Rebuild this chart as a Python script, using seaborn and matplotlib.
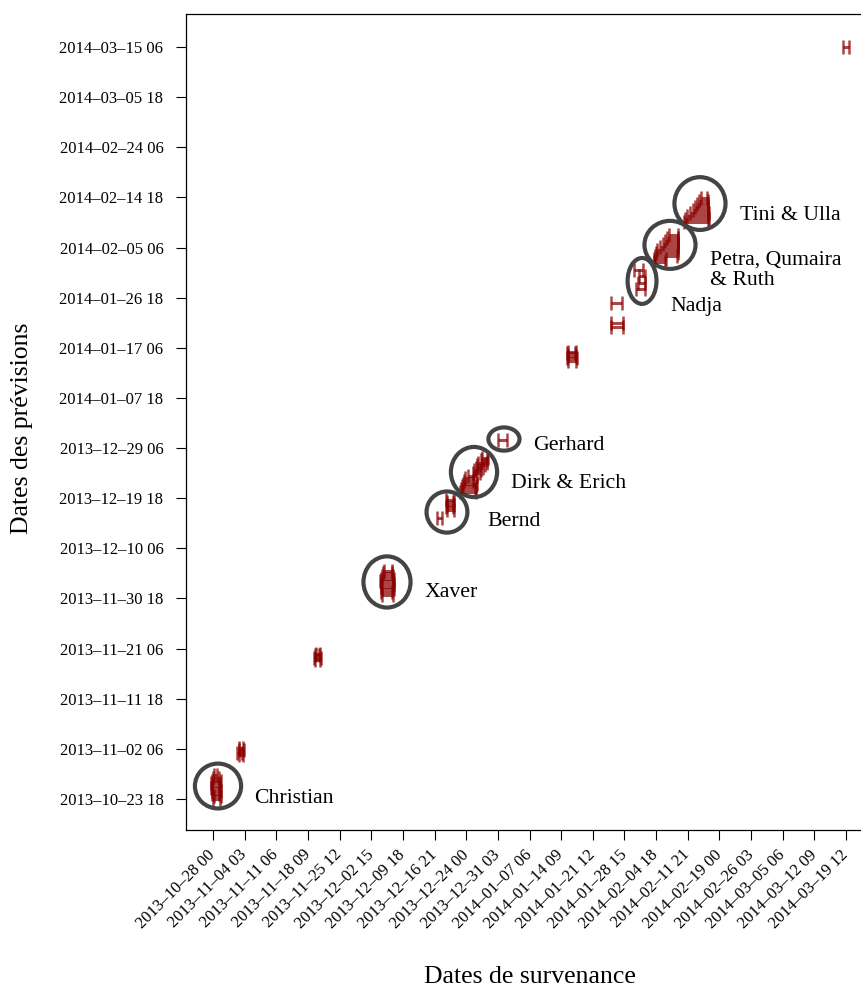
import numpy as np
import pandas as pd
import matplotlib
matplotlib.use("Agg")
import matplotlib.pyplot as plt
import matplotlib.dates as mdates
from matplotlib.patches import Ellipse
import seaborn as sns

# (date de prevision, debut, fin) de la fenetre de survenance prevue
christian = [("2013-10-23 18", "2013-10-28 00", "2013-10-29 12"),
             ("2013-10-24 06", "2013-10-28 06", "2013-10-29 18"),
             ("2013-10-24 18", "2013-10-27 18", "2013-10-29 06"),
             ("2013-10-25 06", "2013-10-27 18", "2013-10-29 18"),
             ("2013-10-25 18", "2013-10-27 12", "2013-10-29 12"),
             ("2013-10-26 06", "2013-10-27 18", "2013-10-29 06"),
             ("2013-10-26 18", "2013-10-27 12", "2013-10-29 12"),
             ("2013-10-27 06", "2013-10-27 18", "2013-10-29 18"),
             ("2013-10-27 18", "2013-10-28 00", "2013-10-29 06"),
             ("2013-10-28 06", "2013-10-28 06", "2013-10-29 00")]
nov02 = [("2013-11-01 00", "2013-11-02 18", "2013-11-03 18"),
         ("2013-11-01 12", "2013-11-02 12", "2013-11-03 12"),
         ("2013-11-02 00", "2013-11-02 18", "2013-11-04 00"),
         ("2013-11-02 12", "2013-11-02 18", "2013-11-03 18")]
nov21 = [("2013-11-19 00", "2013-11-20 00", "2013-11-21 00"),
         ("2013-11-19 12", "2013-11-19 18", "2013-11-21 06"),
         ("2013-11-20 00", "2013-11-20 00", "2013-11-20 18"),
         ("2013-11-20 06", "2013-11-20 06", "2013-11-21 00")]
xaver = [("2013-12-01 12", "2013-12-05 00", "2013-12-07 12"),
         ("2013-12-02 00", "2013-12-04 18", "2013-12-07 06"),
         ("2013-12-02 12", "2013-12-05 00", "2013-12-07 18"),
         ("2013-12-03 00", "2013-12-04 18", "2013-12-07 12"),
         ("2013-12-03 12", "2013-12-04 18", "2013-12-07 18"),
         ("2013-12-04 00", "2013-12-04 12", "2013-12-07 12"),
         ("2013-12-04 12", "2013-12-04 18", "2013-12-07 18"),
         ("2013-12-05 00", "2013-12-05 00", "2013-12-07 12"),
         ("2013-12-05 12", "2013-12-05 06", "2013-12-07 06"),
         ("2013-12-06 00", "2013-12-05 12", "2013-12-07 06")]
bernd = [("2013-12-16 00", "2013-12-17 12", "2013-12-18 12"),
         ("2013-12-17 12", "2013-12-19 18", "2013-12-21 06"),
         ("2013-12-18 00", "2013-12-19 12", "2013-12-21 00"),
         ("2013-12-18 12", "2013-12-19 18", "2013-12-21 06"),
         ("2013-12-19 00", "2013-12-19 18", "2013-12-21 00"),
         ("2013-12-19 12", "2013-12-19 12", "2013-12-21 06")]
dirk_erich = [("2013-12-21 00", "2013-12-22 12", "2013-12-26 06"),
              ("2013-12-21 12", "2013-12-22 18", "2013-12-26 00"),
              ("2013-12-22 00", "2013-12-23 00", "2013-12-26 06"),
              ("2013-12-22 12", "2013-12-23 06", "2013-12-26 12"),
              ("2013-12-23 00", "2013-12-23 12", "2013-12-25 12"),
              ("2013-12-23 12", "2013-12-23 18", "2013-12-25 18"),
              ("2013-12-24 00", "2013-12-24 12", "2013-12-26 12"),
              ("2013-12-24 12", "2013-12-25 12", "2013-12-27 00"),
              ("2013-12-25 00", "2013-12-25 18", "2013-12-27 06"),
              ("2013-12-25 12", "2013-12-26 06", "2013-12-27 18"),
              ("2013-12-26 00", "2013-12-26 12", "2013-12-28 06"),
              ("2013-12-26 12", "2013-12-26 18", "2013-12-28 18"),
              ("2013-12-27 00", "2013-12-27 06", "2013-12-28 18"),
              ("2013-12-27 09", "2013-12-27 12", "2013-12-28 22")]
gerhard = [("2013-12-30 18", "2013-12-31 06", "2014-01-02 06")]
jan17 = [("2014-01-14 18", "2014-01-16 00", "2014-01-17 18"),
         ("2014-01-15 06", "2014-01-15 18", "2014-01-18 00"),
         ("2014-01-15 18", "2014-01-16 00", "2014-01-17 18"),
         ("2014-01-16 06", "2014-01-15 18", "2014-01-17 12"),
         ("2014-01-16 12", "2014-01-16 00", "2014-01-17 18")]
jan25 = [("2014-01-21 06", "2014-01-25 12", "2014-01-28 06"),
         ("2014-01-22 00", "2014-01-25 12", "2014-01-28 06"),
         ("2014-01-25 18", "2014-01-25 12", "2014-01-28 00")]
nadja = [("2014-01-28 10", "2014-01-31 06", "2014-02-02 06"),
         ("2014-01-29 13", "2014-01-31 16", "2014-02-02 06"),
         ("2014-01-30 21", "2014-01-31 22", "2014-02-02 06"),
         ("2014-02-01 00", "2014-01-30 19", "2014-02-01 19")]
petra = [("2014-02-02 12", "2014-02-04 07", "2014-02-06 18"),
         ("2014-02-03 02", "2014-02-04 07", "2014-02-07 00"),
         ("2014-02-03 16", "2014-02-04 12", "2014-02-09 11"),
         ("2014-02-04 05", "2014-02-04 18", "2014-02-09 16"),
         ("2014-02-04 19", "2014-02-04 23", "2014-02-09 16"),
         ("2014-02-05 08", "2014-02-05 15", "2014-02-09 16"),
         ("2014-02-05 22", "2014-02-06 07", "2014-02-09 16"),
         ("2014-02-06 12", "2014-02-06 18", "2014-02-09 16"),
         ("2014-02-07 01", "2014-02-07 05", "2014-02-09 16"),
         ("2014-02-07 15", "2014-02-07 16", "2014-02-09 16")]
tini = [("2014-02-10 02", "2014-02-11 01", "2014-02-16 10"),
        ("2014-02-10 16", "2014-02-11 06", "2014-02-16 16"),
        ("2014-02-11 06", "2014-02-11 17", "2014-02-16 10"),
        ("2014-02-11 19", "2014-02-12 09", "2014-02-16 16"),
        ("2014-02-12 09", "2014-02-13 01", "2014-02-16 10"),
        ("2014-02-12 22", "2014-02-13 12", "2014-02-16 10"),
        ("2014-02-13 12", "2014-02-13 23", "2014-02-16 10"),
        ("2014-02-14 02", "2014-02-14 10", "2014-02-16 10"),
        ("2014-02-14 15", "2014-02-14 21", "2014-02-16 05")]
mar15 = [("2014-03-15 06", "2014-03-18 18", "2014-03-20 06")]

x_ticks = ["2013-10-28 00", "2013-11-04 03", "2013-11-11 06", "2013-11-18 09",
           "2013-11-25 12", "2013-12-02 15", "2013-12-09 18", "2013-12-16 21",
           "2013-12-24 00", "2013-12-31 03", "2014-01-07 06", "2014-01-14 09",
           "2014-01-21 12", "2014-01-28 15", "2014-02-04 18", "2014-02-11 21",
           "2014-02-19 00", "2014-02-26 03", "2014-03-05 06", "2014-03-12 09",
           "2014-03-19 12"]
y_ticks = ["2013-10-23 18", "2013-11-02 06", "2013-11-11 18", "2013-11-21 06",
           "2013-11-30 18", "2013-12-10 06", "2013-12-19 18", "2013-12-29 06",
           "2014-01-07 18", "2014-01-17 06", "2014-01-26 18", "2014-02-05 06",
           "2014-02-14 18", "2014-02-24 06", "2014-03-05 18", "2014-03-15 06"]

storm_names = ["Christian", "Xaver", "Bernd", "Dirk & Erich", "Gerhard",
               "Nadja", "Petra, Qumaira\n& Ruth", "Tini & Ulla"]
circle_x = ["2013-10-29 03", "2013-12-06 04", "2013-12-19 16", "2013-12-25 18",
            "2014-01-01 12", "2014-02-01 14", "2014-02-07 21", "2014-02-14 15"]
circle_y = ["2013-10-26 05", "2013-12-03 21", "2013-12-17 03", "2013-12-24 17",
            "2013-12-30 23", "2014-01-29 22", "2014-02-05 18", "2014-02-13 14"]
circle_w = [10.4, 10.6, 9.2, 10.4, 7.0, 6.5, 11.5, 11.5]
circle_h = [8.5, 9.7, 7.8, 9.5, 4.4, 8.7, 9.1, 10.0]
label_x = ["2013-11-06 06", "2013-12-14 12", "2013-12-28 16", "2014-01-03 02",
           "2014-01-08 01", "2014-02-07 21", "2014-02-16 21", "2014-02-23 15"]
label_y = ["2013-10-23 18", "2013-12-01 23", "2013-12-15 06", "2013-12-22 15",
           "2013-12-29 16", "2014-01-25 00", "2014-02-01 00", "2014-02-11 06"]

fmt = "%Y-%m-%d %H"
def num(v):
    return mdates.date2num(pd.to_datetime(pd.Series(v), format=fmt))

rows = []
for g in [christian, nov02, nov21, xaver, bernd, dirk_erich, gerhard,
          jan17, jan25, nadja, petra, tini, mar15]:
    rows.extend(g)
df = pd.DataFrame(rows, columns=["prevision", "debut", "fin"])
for c in df.columns:
    df[c] = num(df[c])

sns.set_style("ticks")
plt.rcParams['font.family'] = ['Liberation Serif', 'DejaVu Serif']
plt.rcParams['text.color'] = 'black'
plt.rcParams['xtick.color'] = 'black'
plt.rcParams['ytick.color'] = 'black'
plt.rcParams['axes.edgecolor'] = 'black'

red = "#8B0000"
fig = plt.figure(figsize=(8.62, 9.89), dpi=100)
ax = fig.add_axes([186/862, 1 - 830/989, (876 - 186)/862, (830 - 14)/989])

ax.hlines(df["prevision"], df["debut"], df["fin"], color=red, alpha=0.72, linewidth=2.2)
caps = pd.concat([df[["debut", "prevision"]].rename(columns={"debut": "x"}),
                  df[["fin", "prevision"]].rename(columns={"fin": "x"})])
sns.scatterplot(data=caps, x="x", y="prevision", marker="|", s=88, color=red,
                alpha=0.72, linewidth=1.8, ax=ax, legend=False)

cx, cy = num(circle_x), num(circle_y)
lx, ly = num(label_x), num(label_y)
for i, name in enumerate(storm_names):
    ax.add_patch(Ellipse((cx[i], cy[i]), circle_w[i], circle_h[i], fill=False,
                         edgecolor="#444444", linewidth=3))
    ax.text(lx[i], ly[i], name, fontsize=15.7, ha="left", va="center",
            linespacing=1.1, color="black")

ax.set_xlim(num(["2013-10-21 22"])[0], num(["2014-03-26 06"])[0])
ax.set_ylim(num(["2013-10-17 21"])[0], num(["2014-03-21 12"])[0])

ax.set_xticks(num(x_ticks))
ax.set_xticklabels([t.replace("-", "\u2013") for t in x_ticks], rotation=45,
                   ha="right", va="center", rotation_mode="anchor", fontsize=12)
ax.set_yticks(num(y_ticks))
ax.set_yticklabels([t.replace("-", "\u2013") for t in y_ticks], fontsize=12)
ax.tick_params(axis="both", direction="out", length=7.2, width=0.8, color="black",
               labelcolor="black")
ax.tick_params(axis="y", pad=9)
ax.tick_params(axis="x", pad=9)
for s in ["left", "bottom", "top"]:
    ax.spines[s].set_color("black")
    ax.spines[s].set_linewidth(0.9)
ax.spines["right"].set_visible(False)
ax.set_xlabel("")
ax.set_ylabel("")

fig.text(530/862, 1 - 977/989, "Dates de survenance", fontsize=18.5,
         ha="center", va="center", color="black")
fig.text(22/862, 1 - 428/989, "Dates des pr\u00e9visions", fontsize=18.5,
         ha="center", va="center", rotation=90, color="black")

fig.savefig("out.png", dpi=100)
